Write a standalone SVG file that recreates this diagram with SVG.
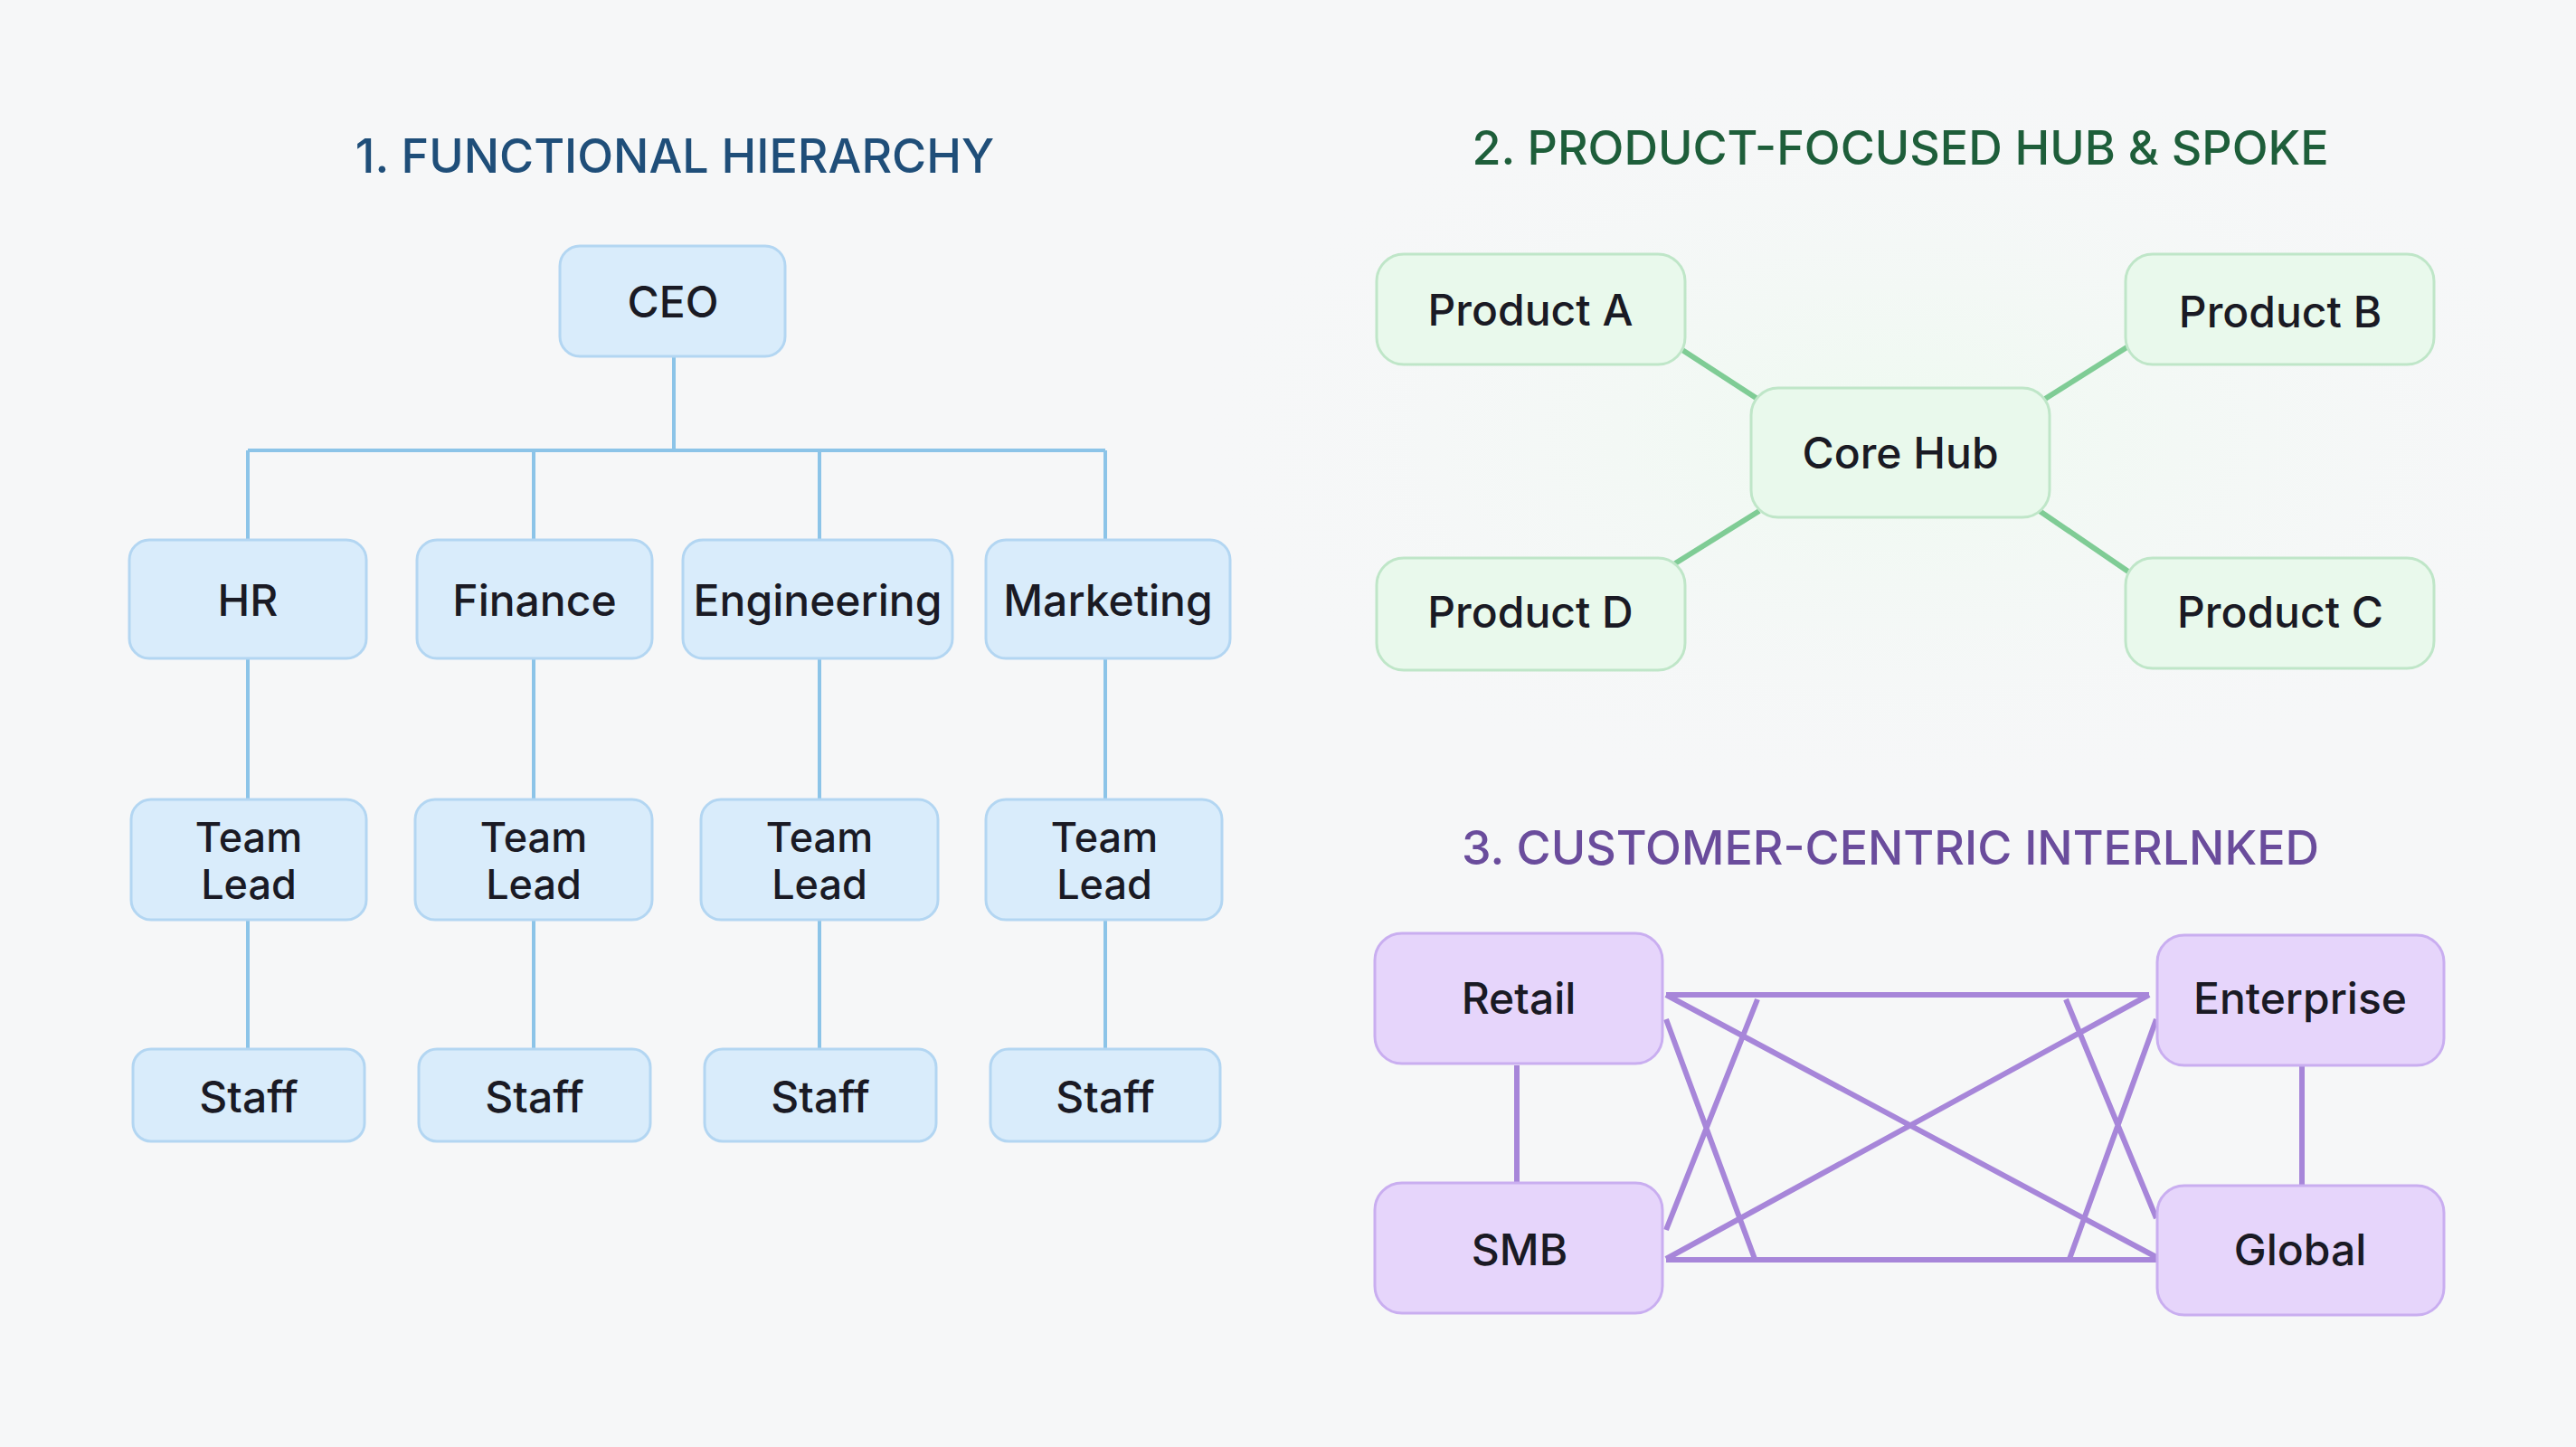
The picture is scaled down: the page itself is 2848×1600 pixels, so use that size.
<svg xmlns="http://www.w3.org/2000/svg" width="2848" height="1600" viewBox="0 0 2848 1600">
<defs>
<radialGradient id="gg" cx="0.5" cy="0.5" r="0.5"><stop offset="0" stop-color="#eefaf0"/><stop offset="1" stop-color="#f6f7f8" stop-opacity="0"/></radialGradient>
<style>
text{font-family:Inter,"Liberation Sans",sans-serif;text-anchor:middle;dominant-baseline:central;fill:#1a1a24;font-size:48px;font-weight:500}
.t{font-size:52px;font-weight:500}
.tl{font-size:45px}
.b rect{fill:#d9ecfb;stroke:#b3d6f2;stroke-width:3}
.g rect{fill:#e9f9ec;stroke:#bfe6c8;stroke-width:3}
.p rect{fill:#e6d5fb;stroke:#c9aef0;stroke-width:3}
.cb{stroke:#8cc4e8;stroke-width:4;fill:none}
.cg{stroke:#7fcc95;stroke-width:6;fill:none}
.cp{stroke:#a786d9;stroke-width:6;fill:none}
</style>
</defs>
<rect width="2848" height="1600" fill="#f6f7f8"/>
<ellipse cx="2100" cy="480" rx="800" ry="420" fill="url(#gg)"/>
<text class="t" x="746" y="172" style="fill:#1f4e79">1. FUNCTIONAL HIERARCHY</text>
<text class="t" x="2101" y="163" style="fill:#1e5e3a">2. PRODUCT-FOCUSED HUB &amp; SPOKE</text>
<text class="t" x="2090" y="937" style="fill:#6a4c9c">3. CUSTOMER-CENTRIC INTERLNKED</text>
<g id="connectors">
<path class="cb" d="M745 394V498M274 498H1222M274 498V597M590 498V597M906 498V597M1222 498V597M274 728V884M590 728V884M906 728V884M1222 728V884M274 1017V1160M590 1017V1160M906 1017V1160M1222 1017V1160"/>
<path class="cg" d="M1860 387L1943 441M2353 383L2261 441M1852 623L1945 565M2353 632L2252 563"/>
<path class="cp" d="M1677 1178V1308M2545 1178V1311M1842 1100H2376M1842 1393H2384M1943 1105L1842 1360M1842 1127L1940 1392M2284 1105L2384 1347M2384 1127L2288 1392M1842 1100L2384 1390M2376 1100L1842 1392"/>
</g>
<g id="ceo" class="b"><rect x="619" y="272" width="249" height="122" rx="22"/><text x="744" y="333">CEO</text></g>
<g id="hr" class="b"><rect x="143" y="597" width="262" height="131" rx="22"/><text x="274" y="663">HR</text></g>
<g id="finance" class="b"><rect x="461" y="597" width="260" height="131" rx="22"/><text x="591" y="663">Finance</text></g>
<g id="engineering" class="b"><rect x="755" y="597" width="298" height="131" rx="22"/><text x="904" y="663">Engineering</text></g>
<g id="marketing" class="b"><rect x="1090" y="597" width="270" height="131" rx="22"/><text x="1225" y="663">Marketing</text></g>
<g id="tl1" class="b"><rect x="145" y="884" width="260" height="133" rx="22"/><text class="tl" x="275" y="925">Team</text><text class="tl" x="275" y="977">Lead</text></g>
<g id="tl2" class="b"><rect x="459" y="884" width="262" height="133" rx="22"/><text class="tl" x="590" y="925">Team</text><text class="tl" x="590" y="977">Lead</text></g>
<g id="tl3" class="b"><rect x="775" y="884" width="262" height="133" rx="22"/><text class="tl" x="906" y="925">Team</text><text class="tl" x="906" y="977">Lead</text></g>
<g id="tl4" class="b"><rect x="1090" y="884" width="261" height="133" rx="22"/><text class="tl" x="1221" y="925">Team</text><text class="tl" x="1221" y="977">Lead</text></g>
<g id="s1" class="b"><rect x="147" y="1160" width="256" height="102" rx="20"/><text x="275" y="1212">Staff</text></g>
<g id="s2" class="b"><rect x="463" y="1160" width="256" height="102" rx="20"/><text x="591" y="1212">Staff</text></g>
<g id="s3" class="b"><rect x="779" y="1160" width="256" height="102" rx="20"/><text x="907" y="1212">Staff</text></g>
<g id="s4" class="b"><rect x="1095" y="1160" width="254" height="102" rx="20"/><text x="1222" y="1212">Staff</text></g>
<g id="pa" class="g"><rect x="1522" y="281" width="341" height="122" rx="30"/><text x="1692" y="342">Product A</text></g>
<g id="pb" class="g"><rect x="2350" y="281" width="341" height="122" rx="30"/><text x="2521" y="344">Product B</text></g>
<g id="hub" class="g"><rect x="1936" y="429" width="330" height="143" rx="30"/><text x="2101" y="500">Core Hub</text></g>
<g id="pd" class="g"><rect x="1522" y="617" width="341" height="124" rx="30"/><text x="1692" y="676">Product D</text></g>
<g id="pc" class="g"><rect x="2350" y="617" width="341" height="122" rx="30"/><text x="2521" y="676">Product C</text></g>
<g id="retail" class="p"><rect x="1520" y="1032" width="318" height="144" rx="30"/><text x="1679" y="1103">Retail</text></g>
<g id="enterprise" class="p"><rect x="2385" y="1034" width="317" height="144" rx="30"/><text x="2543" y="1103">Enterprise</text></g>
<g id="smb" class="p"><rect x="1520" y="1308" width="318" height="144" rx="30"/><text x="1680" y="1381">SMB</text></g>
<g id="global" class="p"><rect x="2385" y="1311" width="317" height="143" rx="30"/><text x="2543" y="1381">Global</text></g>
</svg>
